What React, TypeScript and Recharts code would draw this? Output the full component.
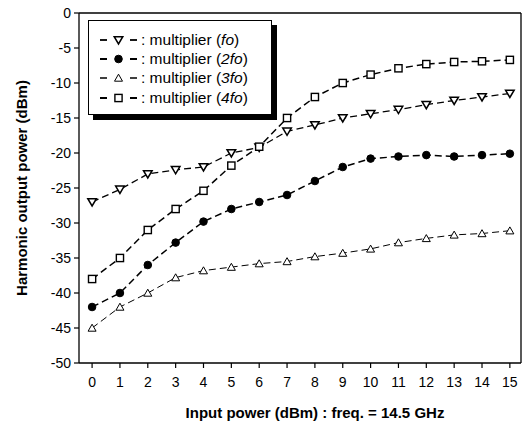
import React from "react";
import { LineChart, Line, XAxis, YAxis, Legend, Label } from "recharts";

// input power (dBm) at 14.5 GHz
const inputPower = [0, 1, 2, 3, 4, 5, 6, 7, 8, 9, 10, 11, 12, 13, 14, 15];

// harmonic output power (dBm)
const multFo = [-27, -25.2, -23, -22.4, -22, -20, -19.2, -16.9, -16, -15, -14.4, -13.8, -13.1, -12.5, -12, -11.5];
const mult2fo = [-42, -40, -36, -32.8, -29.8, -28, -27, -26, -24, -22, -20.8, -20.5, -20.3, -20.5, -20.3, -20.1];
const mult3fo = [-45, -42, -40, -37.8, -36.8, -36.3, -35.8, -35.5, -34.8, -34.3, -33.7, -32.8, -32.2, -31.7, -31.5, -31.1];
const mult4fo = [-38, -35, -31, -28, -25.4, -21.8, -19.1, -15, -12, -10, -8.8, -7.9, -7.3, -7, -6.9, -6.7];

const xTicks = [0, 1, 2, 3, 4, 5, 6, 7, 8, 9, 10, 11, 12, 13, 14, 15];
const xMinorTicks = [0.5, 1.5, 2.5, 3.5, 4.5, 5.5, 6.5, 7.5, 8.5, 9.5, 10.5, 11.5, 12.5, 13.5, 14.5];
const yTicks = [0, -5, -10, -15, -20, -25, -30, -35, -40, -45, -50];
const yMinorTicks = [-2.5, -7.5, -12.5, -17.5, -22.5, -27.5, -32.5, -37.5, -42.5, -47.5];

const data = inputPower.map((p, i) => ({
  p,
  fo: multFo[i],
  fo2: mult2fo[i],
  fo3: mult3fo[i],
  fo4: mult4fo[i],
}));

const FONT = "Arial, 'Liberation Sans', sans-serif";
const X_DOMAIN: [number, number] = [-0.47, 15.4];
const Y_DOMAIN: [number, number] = [-50, 0];

type Shape = "down" | "circle" | "up" | "square";

function Marker({ shape, cx, cy }: { shape: Shape; cx: number; cy: number }) {
  if (shape === "circle") return <circle cx={cx} cy={cy} r={3.8} fill="#000" stroke="#000" />;
  if (shape === "square")
    return <rect x={cx - 3.6} y={cy - 3.6} width={7.2} height={7.2} fill="#fff" stroke="#000" strokeWidth={1.4} />;
  if (shape === "down")
    return (
      <path
        d={`M${cx - 4.3},${cy - 3.3} L${cx + 4.3},${cy - 3.3} L${cx},${cy + 4} Z`}
        fill="#fff"
        stroke="#000"
        strokeWidth={1.5}
      />
    );
  return (
    <path
      d={`M${cx - 4},${cy + 3.2} L${cx + 4},${cy + 3.2} L${cx},${cy - 3.8} Z`}
      fill="#fff"
      stroke="#000"
      strokeWidth={1}
    />
  );
}

const dotFor = (shape: Shape) => (props: any) => {
  const { cx, cy, index } = props;
  if (cx == null || cy == null) return <g key={index} />;
  return (
    <g key={index}>
      <Marker shape={shape} cx={cx} cy={cy} />
    </g>
  );
};

const series: { key: string; name: string; shape: Shape; width: number }[] = [
  { key: "fo", name: "fo", shape: "down", width: 1.3 },
  { key: "fo2", name: "2fo", shape: "circle", width: 1.5 },
  { key: "fo3", name: "3fo", shape: "up", width: 1 },
  { key: "fo4", name: "4fo", shape: "square", width: 1.5 },
];

function LegendBox(props: any) {
  const { payload = [] } = props;
  // keep the series order, not the alphabetical one
  const entries = [...payload].sort(
    (a: any, b: any) =>
      series.findIndex((s) => s.key === a.dataKey) - series.findIndex((s) => s.key === b.dataKey)
  );
  return (
    <div
      style={{
        width: 184,
        height: 95,
        boxSizing: "border-box",
        background: "#fff",
        border: "1.5px solid #000",
        boxShadow: "5px 5px 0 #000",
        paddingTop: 9,
        fontFamily: FONT,
        fontSize: 15.5,
        color: "#000",
      }}
    >
      {entries.map((entry: any) => {
        const s = series.find((d) => d.key === entry.dataKey)!;
        return (
          <div key={s.key} style={{ display: "flex", alignItems: "center", height: 19.3 }}>
            <svg width={42} height={16} style={{ marginLeft: 10, flex: "none" }}>
              <line x1={1} y1={8} x2={8} y2={8} stroke="#000" strokeWidth={s.width + 0.5} />
              <line x1={31} y1={8} x2={38} y2={8} stroke="#000" strokeWidth={s.width + 0.5} />
              <Marker shape={s.shape} cx={19.5} cy={8} />
            </svg>
            <span style={{ whiteSpace: "nowrap" }}>
              : multiplier (<i>{entry.value}</i>)
            </span>
          </div>
        );
      })}
    </div>
  );
}

const renderYLabel = (props: any) => {
  const { viewBox } = props;
  const cy = viewBox.y + viewBox.height / 2;
  const cx = 21;
  return (
    <text
      x={cx}
      y={cy}
      transform={`rotate(-90 ${cx} ${cy})`}
      textAnchor="middle"
      dominantBaseline="central"
      fontFamily={FONT}
      fontSize={15}
      fontWeight="bold"
      fill="#000"
    >
      Harmonic output power (dBm)
    </text>
  );
};

const renderXLabel = (props: any) => {
  const { viewBox } = props;
  const cx = viewBox.x + viewBox.width / 2 + 15;
  return (
    <text x={cx} y={418} textAnchor="middle" fontFamily={FONT} fontSize={15} fontWeight="bold" fill="#000">
      Input power (dBm) : freq. = 14.5 GHz
    </text>
  );
};

const tickStyle = { fontFamily: FONT, fontSize: 14, fill: "#000" };
const axisLine = { stroke: "#000", strokeWidth: 1.3 };
const tickLine = { stroke: "#000", strokeWidth: 1.2 };

export default function App() {
  return (
    <div style={{ position: "absolute", left: 0, top: 0, width: 526, height: 426, background: "#fff" }}>
      <LineChart width={526} height={426} data={data} margin={{ top: 13, right: 5, bottom: 0, left: 0 }}>
        {/* bottom axis: labelled majors + short minors */}
        <XAxis
          xAxisId="main"
          dataKey="p"
          type="number"
          domain={X_DOMAIN}
          ticks={xTicks}
          interval={0}
          height={63}
          tickSize={5}
          tickMargin={9}
          tick={tickStyle}
          axisLine={axisLine}
          tickLine={tickLine}
        >
          <Label content={renderXLabel} />
        </XAxis>
        <XAxis
          xAxisId="minor"
          dataKey="p"
          type="number"
          domain={X_DOMAIN}
          ticks={xMinorTicks}
          interval={0}
          height={0}
          tickSize={3}
          tick={false}
          axisLine={false}
          tickLine={tickLine}
        />
        {/* top frame, ticks pointing in */}
        <XAxis
          xAxisId="top"
          orientation="top"
          mirror
          dataKey="p"
          type="number"
          domain={X_DOMAIN}
          ticks={xTicks}
          interval={0}
          tickSize={5}
          tick={false}
          axisLine={axisLine}
          tickLine={tickLine}
        />
        <XAxis
          xAxisId="topMinor"
          orientation="top"
          mirror
          dataKey="p"
          type="number"
          domain={X_DOMAIN}
          ticks={xMinorTicks}
          interval={0}
          tickSize={3}
          tick={false}
          axisLine={false}
          tickLine={tickLine}
        />
        <YAxis
          yAxisId="main"
          type="number"
          domain={Y_DOMAIN}
          ticks={yTicks}
          interval={0}
          width={79}
          tickSize={5}
          tickMargin={3}
          tick={tickStyle}
          axisLine={axisLine}
          tickLine={tickLine}
        >
          <Label content={renderYLabel} />
        </YAxis>
        <YAxis
          yAxisId="minor"
          type="number"
          domain={Y_DOMAIN}
          ticks={yMinorTicks}
          interval={0}
          width={0}
          tickSize={3}
          tick={false}
          axisLine={false}
          tickLine={tickLine}
        />
        <YAxis
          yAxisId="right"
          orientation="right"
          mirror
          type="number"
          domain={Y_DOMAIN}
          ticks={yTicks}
          interval={0}
          tickSize={5}
          tick={false}
          axisLine={axisLine}
          tickLine={tickLine}
        />
        <YAxis
          yAxisId="rightMinor"
          orientation="right"
          mirror
          type="number"
          domain={Y_DOMAIN}
          ticks={yMinorTicks}
          interval={0}
          tickSize={3}
          tick={false}
          axisLine={false}
          tickLine={tickLine}
        />
        <Legend
          layout="vertical"
          align="center"
          verticalAlign="middle"
          content={<LegendBox />}
          wrapperStyle={{ left: 88, top: 20, width: 190, height: 100 }}
        />
        {series.map((s) => (
          <Line
            key={s.key}
            xAxisId="main"
            yAxisId="main"
            dataKey={s.key}
            name={s.name}
            type="linear"
            stroke="#000"
            strokeWidth={s.width}
            strokeDasharray="7 4"
            dot={dotFor(s.shape)}
            activeDot={false}
            legendType="none"
            isAnimationActive={false}
          />
        ))}
      </LineChart>
    </div>
  );
}
